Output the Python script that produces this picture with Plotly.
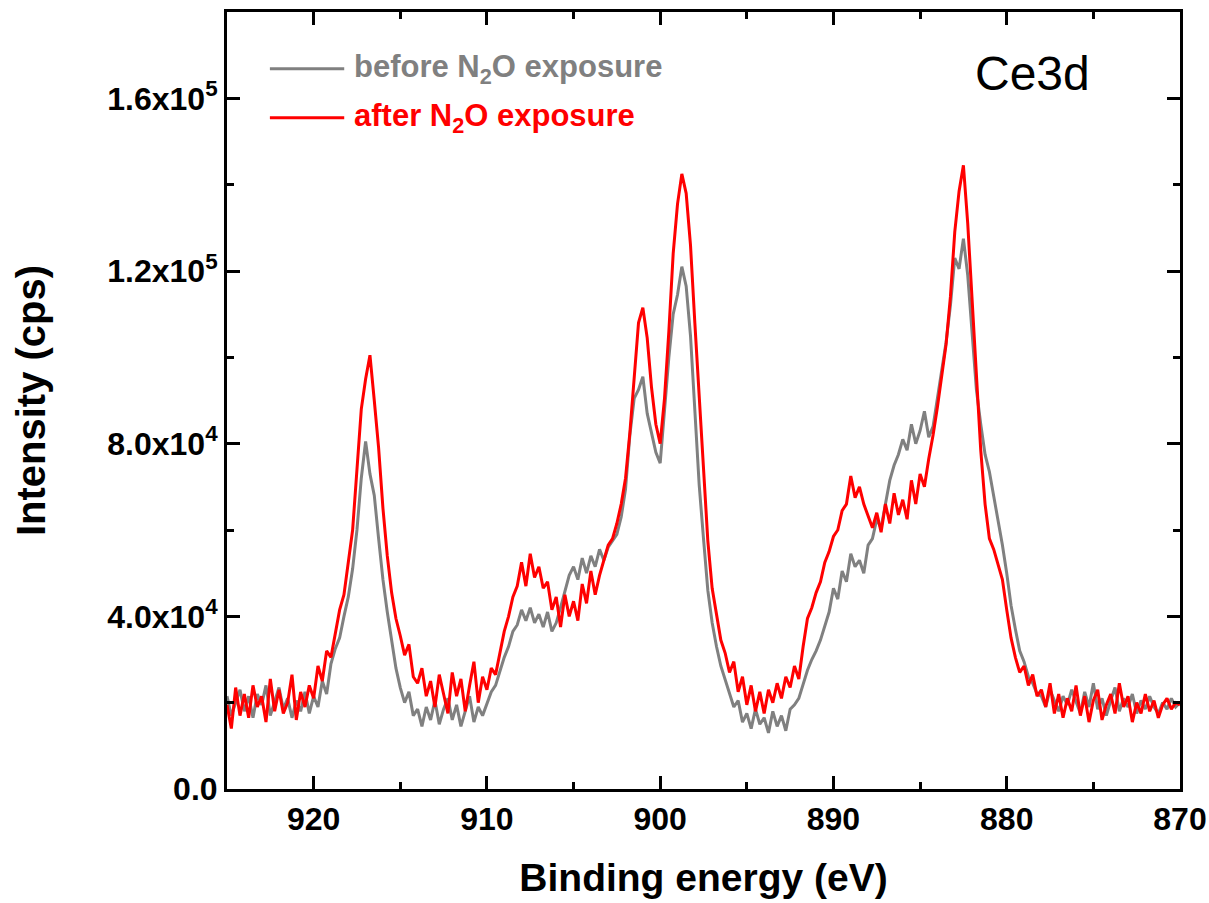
import numpy as np
import plotly.graph_objects as go

# Binding energy grid (eV), 925 -> 870 in 0.25 eV steps
energy_ev = np.round(np.arange(925.0, 869.99, -0.25), 2)

# Ce3d intensity before N2O exposure (10^3 cps), one row per eV
before_kcps = [
    21.5, 17.0, 20.0, 23.0,   # 925
    18.0, 21.5, 16.5, 22.0,   # 924
    19.5, 24.0, 17.0, 20.5,   # 923
    23.5, 18.5, 21.0, 16.5,   # 922
    20.5, 18.0, 22.5, 17.5,   # 921
    21.5, 19.0, 25.0, 22.0,   # 920
    29.0, 32.5, 35.0, 40.0,   # 919
    44.5, 51.0, 60.0, 72.0,   # 918
    80.5, 73.0, 68.0, 58.0,   # 917
    48.5, 41.0, 34.0, 28.0,   # 916
    23.5, 20.0, 22.5, 17.0,   # 915
    18.5, 14.5, 19.0, 16.0,   # 914
    20.5, 15.0, 18.5, 21.0,   # 913
    16.0, 19.5, 14.5, 18.0,   # 912
    21.5, 15.5, 19.0, 17.0,   # 911
    20.0, 22.5, 24.0, 27.5,   # 910
    30.5, 33.0, 36.5, 38.0,   # 909
    41.5, 39.0, 42.0, 38.5,   # 908
    40.5, 37.5, 41.0, 36.5,   # 907
    38.5, 42.0, 45.5, 49.5,   # 906
    51.5, 48.5, 53.5, 50.0,   # 905
    54.0, 51.5, 55.5, 53.0,   # 904
    56.0, 57.5, 59.0, 63.0,   # 903
    69.5, 82.0, 90.5, 92.5,   # 902
    95.5, 87.0, 82.5, 78.0,   # 901
    75.5, 88.5, 100.0, 110.0, # 900
    114.5, 121.0, 116.5, 105.0,  # 899
    88.0, 70.5, 58.0, 46.0,   # 898
    38.5, 33.0, 28.5, 25.5,   # 897
    22.5, 19.0, 20.5, 15.5,   # 896
    17.5, 14.0, 18.5, 15.0,   # 895
    16.5, 13.0, 18.0, 14.5,   # 894
    17.0, 13.5, 18.5, 19.5,   # 893
    21.0, 24.5, 27.5, 30.0,   # 892
    32.0, 34.5, 37.5, 41.0,   # 891
    46.5, 44.0, 50.5, 48.0,   # 890
    54.5, 51.5, 53.0, 50.0,   # 889
    56.5, 58.0, 62.5, 60.5,   # 888
    66.0, 71.5, 75.0, 77.5,   # 887
    81.0, 78.5, 84.5, 80.0,   # 886
    83.0, 87.5, 81.5, 84.0,   # 885
    90.5, 96.5, 103.5, 112.0, # 884
    123.0, 120.5, 127.5, 119.0,  # 883
    106.0, 92.5, 84.5, 77.5,  # 882
    73.5, 68.0, 62.0, 56.5,   # 881
    50.0, 42.5, 37.0, 32.0,   # 880
    29.5, 26.0, 24.5, 22.0,   # 879
    21.5, 19.0, 23.0, 20.5,   # 878
    18.0, 21.5, 19.5, 23.0,   # 877
    20.0, 17.5, 22.5, 19.0,   # 876
    24.5, 18.5, 21.0, 17.0,   # 875
    20.5, 23.5, 18.0, 21.0,   # 874
    19.0, 22.0, 17.5, 20.5,   # 873
    18.5, 21.5, 19.0, 17.5,   # 872
    20.0, 18.5, 21.0, 19.0,   # 871
    20.0,                     # 870
]

# Ce3d intensity after N2O exposure (10^3 cps), one row per eV
after_kcps = [
    19.5, 14.0, 23.5, 17.0,   # 925
    22.0, 16.5, 24.0, 19.0,   # 924
    21.5, 15.5, 25.5, 18.0,   # 923
    23.0, 17.5, 20.0, 26.5,   # 922
    16.0, 22.5, 19.0, 24.0,   # 921
    21.0, 28.5, 25.0, 32.0,   # 920
    30.5, 36.0, 41.5, 45.0,   # 919
    52.0, 60.0, 74.0, 88.0,   # 918
    95.0, 100.5, 90.0, 79.0,  # 917
    65.0, 54.0, 45.5, 39.5,   # 916
    35.5, 31.0, 33.5, 26.0,   # 915
    24.5, 28.0, 21.5, 25.0,   # 914
    19.0, 26.5, 22.0, 17.5,   # 913
    27.0, 21.5, 25.5, 18.0,   # 912
    24.0, 29.5, 20.0, 26.0,   # 911
    23.0, 28.0, 26.5, 31.5,   # 910
    36.5, 40.0, 44.5, 47.0,   # 909
    52.5, 47.0, 54.5, 49.0,   # 908
    51.5, 46.5, 48.0, 41.5,   # 907
    44.5, 37.5, 45.0, 40.0,   # 906
    43.5, 39.0, 47.5, 43.0,   # 905
    50.5, 45.0, 49.5, 53.0,   # 904
    56.5, 58.0, 61.5, 66.0,   # 903
    72.0, 82.5, 96.0, 108.0,  # 902
    111.5, 104.5, 93.0, 84.5, # 901
    80.0, 90.5, 106.0, 124.0, # 900
    135.5, 142.5, 138.0, 126.0,  # 899
    108.0, 90.5, 72.0, 57.5,  # 898
    46.5, 40.0, 34.5, 31.5,   # 897
    27.0, 29.5, 22.5, 26.0,   # 896
    19.5, 24.0, 18.0, 22.5,   # 895
    17.5, 23.0, 20.0, 24.5,   # 894
    21.0, 26.0, 23.5, 28.5,   # 893
    25.5, 33.0, 39.5, 42.0,   # 892
    45.5, 48.0, 52.5, 55.0,   # 891
    58.5, 60.0, 64.5, 66.0,   # 890
    72.5, 67.5, 70.0, 66.0,   # 889
    63.0, 60.5, 64.0, 59.5,   # 888
    66.0, 61.5, 68.5, 63.5,   # 887
    67.0, 62.5, 71.5, 66.0,   # 886
    73.0, 70.0, 76.5, 82.0,   # 885
    88.5, 96.0, 103.0, 114.0, # 884
    129.0, 138.5, 144.5, 131.0,  # 883
    113.0, 96.0, 78.5, 66.0,  # 882
    58.0, 55.5, 52.0, 48.5,   # 881
    41.5, 35.0, 30.5, 27.0,   # 880
    28.5, 24.0, 26.5, 21.5,   # 879
    23.0, 19.0, 24.5, 17.5,   # 878
    22.0, 16.5, 21.0, 18.0,   # 877
    24.0, 17.0, 21.5, 15.5,   # 876
    20.5, 23.0, 16.0, 19.5,   # 875
    22.0, 17.5, 24.5, 19.0,   # 874
    21.5, 15.5, 20.0, 17.5,   # 873
    22.0, 18.0, 20.5, 16.5,   # 872
    19.5, 21.0, 18.5, 20.0,   # 871
    19.5,                     # 870
]

x_tick_vals = [920, 910, 900, 890, 880, 870]
y_tick_vals = [0, 40000, 80000, 120000, 160000]
y_tick_text = ["0.0", "4.0x10<sup>4</sup>", "8.0x10<sup>4</sup>",
               "1.2x10<sup>5</sup>", "1.6x10<sup>5</sup>"]

GRAY = "#808080"
RED = "#ff0000"
FONT = "Liberation Sans, Arial, sans-serif"

fig = go.Figure()
fig.add_trace(go.Scatter(
    x=energy_ev, y=np.array(before_kcps) * 1000, mode="lines",
    line=dict(color=GRAY, width=3), name="before N2O exposure",
    showlegend=False))
fig.add_trace(go.Scatter(
    x=energy_ev, y=np.array(after_kcps) * 1000, mode="lines",
    line=dict(color=RED, width=3), name="after N2O exposure",
    showlegend=False))

axis_common = dict(
    showline=True, linecolor="black", linewidth=3, mirror="ticks",
    ticks="inside", ticklen=13, tickwidth=3, tickcolor="black",
    showgrid=False, zeroline=False, automargin=False,
    tickfont=dict(family=FONT, size=32, color="black", weight="bold"),
)

fig.update_xaxes(
    range=[925, 870], tickmode="array", tickvals=x_tick_vals,
    ticktext=[str(v) for v in x_tick_vals],
    minor=dict(ticks="inside", ticklen=7, tickwidth=3, tickcolor="black",
               tickmode="linear", tick0=870, dtick=5, showgrid=False),
    title=dict(text="Binding energy (eV)", standoff=28,
               font=dict(family=FONT, size=39, color="black", weight="bold")),
    **axis_common)
fig.update_yaxes(
    range=[0, 180000], tickmode="array", tickvals=y_tick_vals,
    ticktext=y_tick_text,
    minor=dict(ticks="inside", ticklen=7, tickwidth=3, tickcolor="black",
               tickmode="linear", tick0=0, dtick=20000, showgrid=False),
    title=dict(text="Intensity (cps)", standoff=50,
               font=dict(family=FONT, size=40, color="black", weight="bold")),
    **axis_common)

# Hand-drawn legend: line swatches plus coloured labels
legend_rows = [
    (0.927, GRAY, "before N<sub>2</sub>O exposure"),
    (0.864, RED, "after N<sub>2</sub>O exposure"),
]
for y_pos, color, label in legend_rows:
    fig.add_shape(type="line", xref="paper", yref="paper",
                  x0=0.045, x1=0.123, y0=y_pos, y1=y_pos,
                  line=dict(color=color, width=3))
    fig.add_annotation(xref="paper", yref="paper", x=0.131, y=y_pos,
                       xanchor="left", yanchor="middle", showarrow=False,
                       text=label,
                       font=dict(family=FONT, size=31, color=color, weight="bold"))

fig.add_annotation(xref="paper", yref="paper", x=0.845, y=0.921,
                   xanchor="center", yanchor="middle", showarrow=False,
                   text="Ce3d", font=dict(family=FONT, size=48, color="black"))

fig.update_layout(
    width=1209, height=903,
    margin=dict(l=227, r=29, t=12, b=114),
    plot_bgcolor="white", paper_bgcolor="white",
)

fig.write_html("out.html")
